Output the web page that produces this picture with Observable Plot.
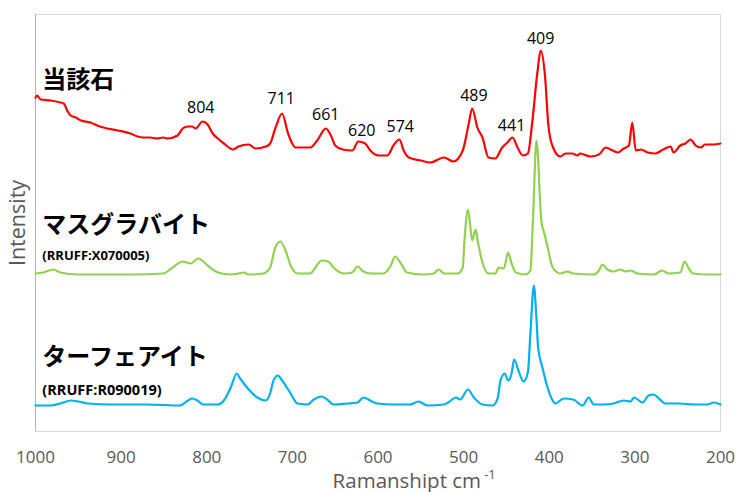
<!DOCTYPE html>
<html><head><meta charset="utf-8">
<script src="https://cdn.jsdelivr.net/npm/d3@7"></script>
<script src="https://cdn.jsdelivr.net/npm/@observablehq/plot@0.6"></script>
<style>body{margin:0;background:#fff}</style>
</head><body><div id="chart"></div>
<script>
// Raman shift (cm-1), relative intensity (arbitrary units, offset stacked)
const redSpectrum = [[1000,334],[998,336],[994,332],[982,331],[971,329],[967,328],[963,321],[959,316],[953,314],[947,311],[936,309],[928,306],[916,303],[904,301],[889,298],[881,295],[874,294],[866,294],[858,293],[851,294],[846,293],[834,296],[828,303],[822,305],[817,305],[813,303],[805,310],[799,307],[793,298],[787,293],[780,288],[769,282],[763,285],[751,287],[743,283],[731,285],[726,288],[720,303],[712,318],[705,298],[696,284],[688,284],[679,284],[671,291],[661,303],[655,296],[650,286],[641,282],[630,281],[623,290],[615,288],[609,281],[599,276],[589,276],[582,286],[575,292],[570,281],[564,274],[550,271],[539,269],[523,274],[512,270],[501,281],[494,308],[490,323],[484,304],[478,294],[471,274],[463,273],[455,284],[449,289],[443,294],[437,284],[431,276],[425,278],[420,308],[414,358],[410,381],[405,356],[401,306],[396,285],[387,275],[381,278],[373,278],[367,276],[364,278],[352,275],[342,277],[334,284],[326,281],[320,279],[313,283],[307,286],[303,309],[299,281],[293,282],[285,279],[276,278],[267,282],[258,285],[255,279],[247,286],[241,288],[235,292],[229,286],[223,284],[218,287],[208,287],[200,288]];
const greenSpectrum = [[1000,158],[991,159],[979,162],[971,159],[951,157],[886,157],[851,158],[840,164],[828,170],[819,168],[810,173],[799,166],[787,159],[772,157],[763,158],[757,159],[751,157],[734,158],[726,164],[720,184],[714,190],[708,181],[702,166],[694,158],[679,158],[673,164],[666,171],[658,170],[652,164],[640,158],[630,159],[624,165],[617,160],[609,158],[594,158],[585,166],[580,175],[574,169],[566,159],[547,157],[535,158],[529,162],[523,158],[507,158],[501,164],[499,191],[495,222],[493,211],[490,191],[486,202],[483,188],[478,169],[471,158],[463,158],[459,164],[453,163],[448,179],[444,168],[439,159],[428,157],[422,161],[420,191],[418,234],[416,281],[415,291],[413,274],[411,234],[409,209],[406,199],[401,181],[396,164],[387,158],[379,160],[372,158],[348,157],[342,161],[338,167],[332,162],[325,160],[317,162],[311,160],[305,161],[297,158],[278,157],[268,161],[261,158],[247,159],[242,170],[237,163],[232,158],[215,157],[200,157]];
const blueSpectrum = [[1000,26],[982,26],[971,28],[959,31],[950,30],[939,28],[912,27],[869,27],[831,26],[822,31],[817,33],[811,31],[804,27],[787,27],[780,31],[772,44],[765,58],[761,53],[752,43],[741,34],[731,31],[726,38],[722,51],[717,56],[712,51],[702,38],[694,28],[682,27],[675,32],[666,35],[658,31],[652,27],[636,28],[624,29],[617,34],[609,31],[601,28],[582,27],[562,27],[553,30],[542,26],[523,27],[518,29],[509,34],[504,32],[495,42],[488,34],[478,27],[466,26],[460,34],[457,51],[452,58],[448,51],[444,58],[441,72],[436,61],[430,50],[425,59],[422,98],[418,146],[415,114],[413,84],[408,64],[402,44],[396,31],[393,28],[383,33],[372,32],[361,26],[354,34],[348,27],[337,27],[325,28],[313,31],[305,30],[301,34],[291,29],[284,36],[278,37],[272,33],[264,28],[247,28],[232,27],[215,27],[208,29],[200,27]];

const xTicks = [1000, 900, 800, 700, 600, 500, 400, 300, 200];
const peakLabels = ["804", "711", "661", "620", "574", "489", "441", "409"];
const peakX = [807, 713, 661, 619, 574, 488, 444, 410];
const peakY = [319, 328, 312, 296, 300, 331, 301, 388];
const seriesNames = ["当該石", "マスグラバイト", "ターフェアイト"];
const seriesNameY = [351, 206, 74];
const refIds = ["(RRUFF:X070005)", "(RRUFF:R090019)"];
const refIdY = [176, 41];
const refIdSize = [13, 14.5];
const xTitle = "Ramanshipt cm";
const xTitleSup = "-1";
const yTitle = "Intensity";

const rows = pairs => pairs.map(([w, i]) => ({w, i}));
const peaks = peakLabels.map((t, k) => ({t, x: peakX[k], y: peakY[k]}));
const names = seriesNames.map((t, k) => ({t, x: 992, y: seriesNameY[k]}));
const refs = refIds.map((t, k) => ({t, x: 992, y: refIdY[k], s: refIdSize[k]}));

const chart = Plot.plot({
  width: 737, height: 492,
  marginLeft: 35, marginRight: 17, marginTop: 14, marginBottom: 61,
  x: {domain: [1000, 200], label: null},
  y: {domain: [0, 417], axis: null},
  style: {fontFamily: "'Open Sans', 'Noto Sans CJK JP', sans-serif", color: "#595959", background: "#fff"},
  marks: [
    Plot.frame({stroke: "#d9d9d9"}),
    Plot.ruleX([1000], {stroke: "#b3b3b3"}),
    Plot.axisX({ticks: xTicks, tickFormat: d => String(d), tickSize: 0, tickPadding: 19, fontSize: 17, label: null}),
    Plot.line(rows(blueSpectrum), {x: "w", y: "i", stroke: "#00b0f0", strokeWidth: 2.2, curve: "monotone-x"}),
    Plot.line(rows(greenSpectrum), {x: "w", y: "i", stroke: "#92d050", strokeWidth: 2.2, curve: "monotone-x"}),
    Plot.line(rows(redSpectrum), {x: "w", y: "i", stroke: "#ff0000", strokeWidth: 2.2, curve: "monotone-x"}),
    Plot.text(peaks, {x: "x", y: "y", text: "t", fontSize: 16, fill: "#000", lineAnchor: "bottom", textAnchor: "middle"}),
    Plot.text(names, {x: "x", y: "y", text: "t", fontSize: 24, fontWeight: "bold", fill: "#000", textAnchor: "start", fontFamily: "'Noto Sans CJK JP', sans-serif"}),
    ...refs.map(r => Plot.text([r], {x: "x", y: "y", text: "t", fontSize: r.s, fontWeight: "bold", fill: "#000", textAnchor: "start"})),
    Plot.text([yTitle], {frameAnchor: "left", textAnchor: "middle", lineAnchor: "middle", rotate: -90, dx: -17, fontSize: 21.5, fill: "#595959"}),
    Plot.text([{t: xTitle, x: 653}], {x: "x", text: "t", frameAnchor: "bottom", dy: 56, lineAnchor: "bottom", textAnchor: "start", fontSize: 20.5, fill: "#595959"}),
    Plot.text([{t: xTitleSup, x: 476}], {x: "x", text: "t", frameAnchor: "bottom", dy: 47, lineAnchor: "bottom", textAnchor: "start", fontSize: 13, fill: "#595959"})
  ]
});
document.getElementById("chart").appendChild(chart);
</script>
</body></html>
